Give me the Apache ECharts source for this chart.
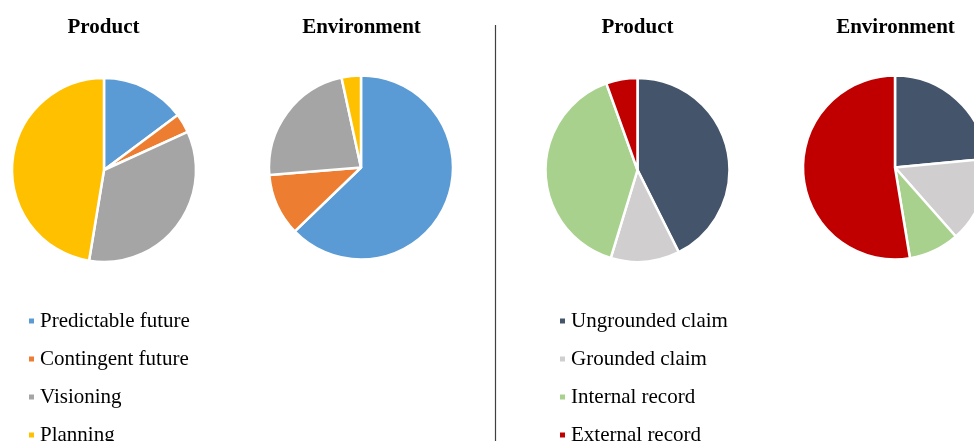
<!DOCTYPE html>
<html>
<head>
<meta charset="utf-8">
<script src="https://cdn.jsdelivr.net/npm/echarts@6/dist/echarts.min.js"></script>
<style>
  html, body { margin: 0; padding: 0; background: #fff; }
  #chart { width: 974px; height: 441px; }
</style>
</head>
<body>
<div id="chart"></div>
<script>
// Shares (%) of each statement type, by subject
const futureTypes = ['Predictable future', 'Contingent future', 'Visioning', 'Planning'];
const futureProduct = [14.8, 3.4, 34.4, 47.4];
const futureEnvironment = [62.8, 10.9, 22.9, 3.4];

const claimTypes = ['Ungrounded claim', 'Grounded claim', 'Internal record', 'External record'];
const claimProduct = [42.6, 12.1, 39.8, 5.5];
const claimEnvironment = [23.5, 15.0, 8.9, 52.6];

const futureColors = ['#5B9BD5', '#ED7D31', '#A5A5A5', '#FFC000'];
const claimColors = ['#44546A', '#D0CECE', '#A9D18E', '#C00000'];

const serif = '"Liberation Serif", "Times New Roman", serif';

function toData(names, values) {
  return names.map((n, i) => ({ name: n, value: values[i] }));
}

function pie(name, names, values, colors, center) {
  return {
    type: 'pie',
    name: name,
    center: center,
    radius: 92,
    startAngle: 90,
    clockwise: true,
    label: { show: false },
    labelLine: { show: false },
    emphasis: { disabled: true },
    itemStyle: {
      color: (p) => colors[p.dataIndex],
      borderColor: '#ffffff',
      borderWidth: 2.5
    },
    data: toData(names, values)
  };
}

function title(text, x) {
  return {
    type: 'text',
    x: x,
    y: 28,
    style: {
      text: text,
      font: 'bold 21px ' + serif,
      fill: '#000',
      align: 'center',
      verticalAlign: 'middle'
    }
  };
}

function legend(names, colors, left) {
  return {
    orient: 'vertical',
    left: left,
    top: 310.5,
    height: 160,
    padding: 0,
    itemWidth: 7,
    itemHeight: 7,
    itemGap: 17,
    icon: 'rect',
    selectedMode: false,
    data: names.map((n, i) => ({ name: n, itemStyle: { color: colors[i] } })),
    textStyle: { fontFamily: serif, fontSize: 21, color: '#000', lineHeight: 21 }
  };
}

const chart = echarts.init(document.getElementById('chart'), null, { renderer: 'canvas' });
chart.setOption({
  animation: false,
  backgroundColor: '#ffffff',
  legend: [
    legend(futureTypes, futureColors, 27),
    legend(claimTypes, claimColors, 558)
  ],
  graphic: [
    title('Product', 103.5),
    title('Environment', 361.5),
    title('Product', 637.5),
    title('Environment', 895.5),
    {
      type: 'line',
      shape: { x1: 495.5, y1: 25, x2: 495.5, y2: 441 },
      style: { stroke: '#404040', lineWidth: 1.2 }
    }
  ],
  series: [
    pie('Product (future)', futureTypes, futureProduct, futureColors, [104, 170]),
    pie('Environment (future)', futureTypes, futureEnvironment, futureColors, [361, 167.5]),
    pie('Product (claims)', claimTypes, claimProduct, claimColors, [637.5, 170]),
    pie('Environment (claims)', claimTypes, claimEnvironment, claimColors, [895, 167.5])
  ]
});
</script>
</body>
</html>
